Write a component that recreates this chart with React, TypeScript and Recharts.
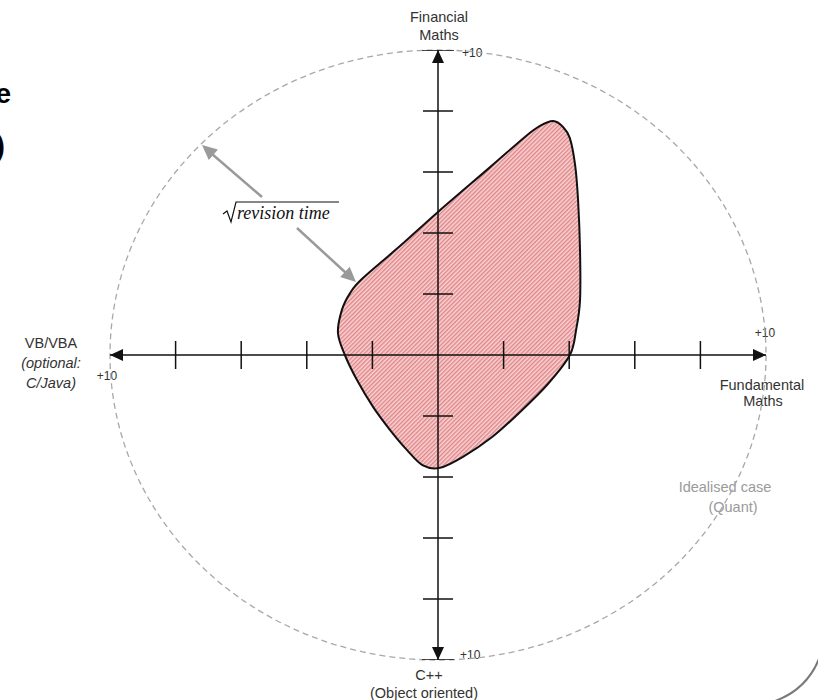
import React from 'react';
import { ComposedChart, XAxis, YAxis, Scatter, ReferenceArea, Customized } from 'recharts';

// Outline of the "typical entry level Quant" region (axis units, clockwise)
const blobX = [3.51, 3.81, 4.02, 4.18, 4.27, 4.33, 4.33, 4.21, 4.02, 3.35, 2.5, 1.65, 0.76, 0.06, -0.46, -0.95, -1.46, -1.98, -2.47, -2.84, -3.05, -2.93, -2.68, -2.32, -1.16, 0, 1.59, 2.65, 3.11];
const blobY = [7.67, 7.48, 7.11, 6.23, 5.08, 3.44, 1.8, 0.82, 0, -0.95, -1.87, -2.69, -3.34, -3.7, -3.62, -3.11, -2.46, -1.7, -0.82, 0, 0.72, 1.48, 2.03, 2.49, 3.57, 4.69, 6.16, 7.15, 7.51];
const blobData = blobX.map((x, i) => ({ x, y: blobY[i] }));

const tickValues = [-8, -6, -4, -2, 2, 4, 6, 8];
const xTickData = tickValues.map((v) => ({ x: v, y: 0 }));
const yTickData = tickValues.map((v) => ({ x: 0, y: v }));
const yEndData = [{ x: 0, y: 10 }, { x: 0, y: -10 }];
const hAxisData = [{ x: -10, y: 0 }, { x: 10, y: 0 }];
const vAxisData = [{ x: 0, y: -10 }, { x: 0, y: 10 }];
const AXIS_MAX = 10;

const FONT = '"Liberation Sans", Arial, sans-serif';

const Empty = () => <g />;

function smoothClosedPath(pts: { x: number; y: number }[]) {
  const n = pts.length;
  let d = `M${pts[0].x},${pts[0].y}`;
  for (let i = 0; i < n; i++) {
    const p0 = pts[(i - 1 + n) % n];
    const p1 = pts[i];
    const p2 = pts[(i + 1) % n];
    const p3 = pts[(i + 2) % n];
    const c1x = p1.x + (p2.x - p0.x) / 6;
    const c1y = p1.y + (p2.y - p0.y) / 6;
    const c2x = p2.x - (p3.x - p1.x) / 6;
    const c2y = p2.y - (p3.y - p1.y) / 6;
    d += ` C${c1x},${c1y} ${c2x},${c2y} ${p2.x},${p2.y}`;
  }
  return d + ' Z';
}

const renderBlob = (props: any) => {
  const pts = props.points || [];
  if (!pts.length) return <g />;
  return (
    <g>
      <defs>
        <pattern id="hatch" patternUnits="userSpaceOnUse" width="3" height="3" patternTransform="rotate(45)">
          <rect x="0" y="0" width="3" height="3" fill="#f7d3d3" />
          <line x1="0.7" y1="0" x2="0.7" y2="3" stroke="#e07f82" strokeWidth="1.3" />
        </pattern>
      </defs>
      <path d={smoothClosedPath(pts)} fill="url(#hatch)" stroke="#111" strokeWidth={2} />
    </g>
  );
};

function arrowHead(tx: number, ty: number, ux: number, uy: number, L: number, W: number) {
  return `M${tx},${ty} L${tx - ux * L - uy * W},${ty - uy * L + ux * W} L${tx - ux * L + uy * W},${ty - uy * L - ux * W} Z`;
}

const renderAxis = (props: any) => {
  const pts = props.points || [];
  if (pts.length < 2) return <g />;
  const a = pts[0];
  const b = pts[1];
  const dx = b.x - a.x;
  const dy = b.y - a.y;
  const len = Math.hypot(dx, dy) || 1;
  const ux = dx / len;
  const uy = dy / len;
  return (
    <g>
      <line x1={a.x} y1={a.y} x2={b.x} y2={b.y} stroke="#111" strokeWidth={1.5} />
      <path d={arrowHead(b.x, b.y, ux, uy, 13, 6)} fill="#111" />
      <path d={arrowHead(a.x, a.y, -ux, -uy, 13, 6)} fill="#111" />
    </g>
  );
};

const VTick = (p: any) => <line x1={p.cx} y1={p.cy - 14} x2={p.cx} y2={p.cy + 14} stroke="#111" strokeWidth={1.5} />;
const HTick = (p: any) => <line x1={p.cx - 15} y1={p.cy} x2={p.cx + 15} y2={p.cy} stroke="#111" strokeWidth={1.5} />;
const EndTick = (p: any) => <line x1={p.cx - 16} y1={p.cy} x2={p.cx + 16} y2={p.cy} stroke="#111" strokeWidth={1.5} />;

const EllipseShape = (p: any) => (
  <ellipse
    cx={p.x + p.width / 2}
    cy={p.y + p.height / 2}
    rx={Math.abs(p.width) / 2}
    ry={Math.abs(p.height) / 2}
    fill="none"
    stroke="#a8a8a8"
    strokeWidth={1.3}
    strokeDasharray="6 4"
  />
);

const Annotations = () => (
  <g fontFamily={FONT}>
    {/* cut-off slide text on the left edge */}
    <text x={11} y={103} fontSize={28} fontWeight="bold" textAnchor="end" fill="#000">e</text>
    <text x={5} y={156} fontSize={29} fontWeight="bold" textAnchor="end" fill="#000">)</text>

    {/* axis labels */}
    <text x={439} y={22} fontSize={14.5} textAnchor="middle" fill="#333">Financial</text>
    <text x={439} y={40} fontSize={14.5} textAnchor="middle" fill="#333">Maths</text>
    <text x={462} y={57} fontSize={12} fill="#333">+10</text>

    <text x={51} y={348} fontSize={14.5} textAnchor="middle" fill="#333">VB/VBA</text>
    <text x={51} y={368} fontSize={14.5} fontStyle="italic" textAnchor="middle" fill="#333">(optional:</text>
    <text x={51} y={388} fontSize={14.5} fontStyle="italic" textAnchor="middle" fill="#333">C/Java)</text>
    <text x={107} y={380} fontSize={12} textAnchor="middle" fill="#333">+10</text>

    <text x={765} y={337} fontSize={12} textAnchor="middle" fill="#333">+10</text>
    <text x={762} y={390} fontSize={14.5} textAnchor="middle" fill="#333">Fundamental</text>
    <text x={763} y={406} fontSize={14.5} textAnchor="middle" fill="#333">Maths</text>

    <text x={460} y={659} fontSize={12} fill="#333">+10</text>
    <text x={429} y={680} fontSize={14.5} textAnchor="middle" fill="#333">C++</text>
    <text x={424} y={698} fontSize={14.5} textAnchor="middle" fill="#333">(Object oriented)</text>

    <text x={725} y={492} fontSize={14.5} textAnchor="middle" fill="#9a9a9a">Idealised case</text>
    <text x={733} y={512} fontSize={14.5} textAnchor="middle" fill="#9a9a9a">(Quant)</text>

    <text x={423} y={370} fontSize={13} textAnchor="middle" fill="#7a5555">0</text>

    {/* label box inside region */}
    <rect x={460} y={247} width={108} height={39} fill="#ffffff" fillOpacity={0.88} />
    <text x={514} y={261} fontSize={15} textAnchor="middle" fill="#8a8a8a">Typical entry</text>
    <text x={514} y={281} fontSize={15} textAnchor="middle" fill="#8a8a8a">level Quant</text>

    {/* sqrt(revision time) */}
    <path d="M223,214 L227,211 L231,222 L236,202 L339,202" fill="none" stroke="#111" strokeWidth={1.2} />
    <text x={237} y={219} fontSize={18} fontStyle="italic" fontFamily='"Liberation Serif", "Times New Roman", serif' fill="#111">revision time</text>

    {/* grey pointer arrows */}
    <line x1={262} y1={197} x2={212} y2={154} stroke="#9a9a9a" strokeWidth={2.5} />
    <path d={arrowHead(202, 145, -0.758, -0.652, 15, 7)} fill="#9a9a9a" />
    <line x1={297} y1={228} x2={346} y2={273} stroke="#9a9a9a" strokeWidth={2.5} />
    <path d={arrowHead(356, 282, 0.736, 0.677, 15, 7)} fill="#9a9a9a" />

    {/* slide border corner */}
    <path d="M822,650 Q810,692 766,704" fill="none" stroke="#7a7a7a" strokeWidth={2} />
  </g>
);

export default function App() {
  return (
    <div style={{ position: 'absolute', left: 0, top: 0, width: 818, height: 700, background: '#fff' }}>
      <ComposedChart width={818} height={700} margin={{ top: 50, right: 52, bottom: 40, left: 110 }}>
        <XAxis type="number" dataKey="x" domain={[-AXIS_MAX, AXIS_MAX]} allowDataOverflow hide height={0} />
        <YAxis type="number" dataKey="y" domain={[-AXIS_MAX, AXIS_MAX]} allowDataOverflow hide width={0} />
        <ReferenceArea x1={-AXIS_MAX} x2={AXIS_MAX} y1={-AXIS_MAX} y2={AXIS_MAX} ifOverflow="visible" shape={EllipseShape} />
        <Scatter data={blobData} shape={Empty} line={renderBlob} lineType="joint" isAnimationActive={false} />
        <Scatter data={hAxisData} shape={Empty} line={renderAxis} lineType="joint" isAnimationActive={false} />
        <Scatter data={vAxisData} shape={Empty} line={renderAxis} lineType="joint" isAnimationActive={false} />
        <Scatter data={xTickData} shape={VTick} isAnimationActive={false} />
        <Scatter data={yTickData} shape={HTick} isAnimationActive={false} />
        <Scatter data={yEndData} shape={EndTick} isAnimationActive={false} />
        <Customized component={Annotations} />
      </ComposedChart>
    </div>
  );
}
